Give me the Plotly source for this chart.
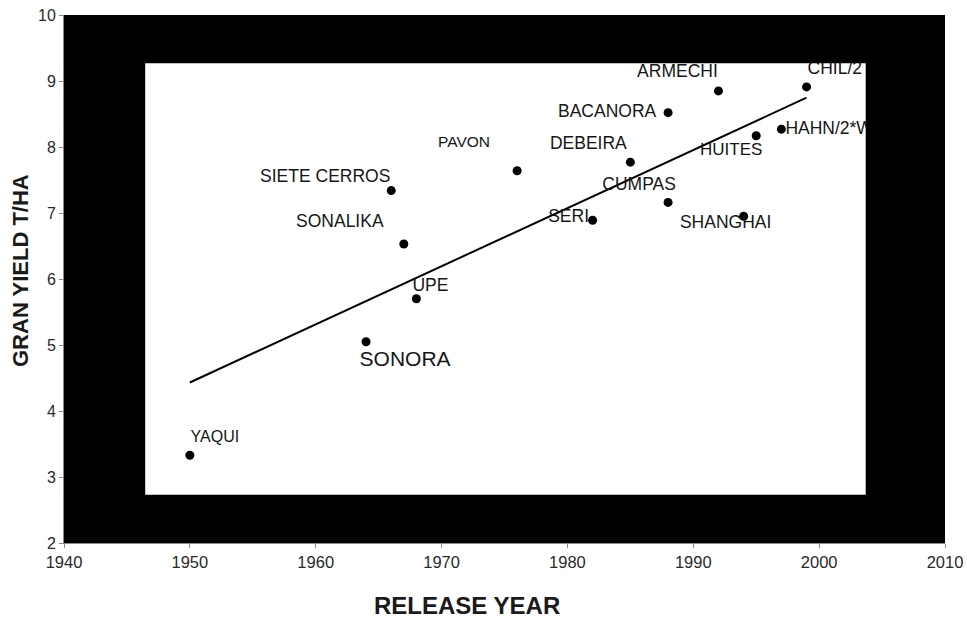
import numpy as np
import plotly.graph_objects as go

# Wheat varieties: release year and grain yield (t/ha)
varieties = ["YAQUI", "SONORA", "UPE", "SONALIKA", "SIETE CERROS", "PAVON", "SERI",
             "DEBEIRA", "CUMPAS", "BACANORA", "ARMECHI", "HUITES", "HAHN/2*W",
             "SHANGHAI", "CHIL/2"]
release_year = [1950, 1964, 1968, 1967, 1966, 1976, 1982, 1985, 1988, 1988, 1992,
                1995, 1997, 1994, 1999]
grain_yield = [3.33, 5.05, 5.70, 6.53, 7.34, 7.64, 6.89, 7.77, 7.16, 8.52, 8.85,
               8.17, 8.27, 6.95, 8.91]

x_ticks = [1940, 1950, 1960, 1970, 1980, 1990, 2000, 2010]
y_ticks = [2, 3, 4, 5, 6, 7, 8, 9, 10]
x_title = "RELEASE YEAR"
y_title = "GRAN YIELD T/HA"

# ---- figure geometry ----
W, H = 967, 619
ML, MR, MT, MB = 64, 22, 15, 76
XR = (1940, 2010)
YR = (2, 10)
PW, PH = W - ML - MR, H - MT - MB
px_x = PW / (XR[1] - XR[0])
px_y = PH / (YR[1] - YR[0])

# label placement: (dx, dy) in pixels from the point, dy downward; anchor, font size
label_style = {
    "YAQUI": (25, -17, "c", 16),
    "SONORA": (39, 19, "c", 21),
    "UPE": (14, -12, "c", 17.5),
    "SONALIKA": (-64, -21, "c", 17.5),
    "SIETE CERROS": (-66, -13, "c", 17.5),
    "PAVON": (-53, -28, "c", 15.5),
    "SERI": (-24, -3, "c", 17.5),
    "DEBEIRA": (-42, -18, "c", 17.5),
    "CUMPAS": (-29, -17, "c", 17.5),
    "BACANORA": (-61, 0, "c", 17.5),
    "ARMECHI": (-41, -18, "c", 17.5),
    "HUITES": (-25, 15, "c", 17),
    "HAHN/2*W": (4, 0, "l", 17.5),
    "SHANGHAI": (-18, 7, "c", 17.5),
    "CHIL/2": (1, -17, "l", 17.5),
}

FONT = "Liberation Sans, Arial, sans-serif"

fig = go.Figure()

# linear trend through the varieties
coef = np.polyfit(release_year, grain_yield, 1)
xt = np.array([min(release_year), max(release_year)])
fig.add_trace(go.Scatter(x=xt, y=np.polyval(coef, xt), mode="lines",
                         line=dict(color="black", width=2), hoverinfo="skip",
                         showlegend=False))

fig.add_trace(go.Scatter(x=release_year, y=grain_yield, mode="markers",
                         marker=dict(color="black", size=9),
                         text=varieties, showlegend=False))

# variety names
for anchor, tpos in (("c", "middle center"), ("l", "middle right")):
    lx, ly, lt, ls = [], [], [], []
    for name, xv, yv in zip(varieties, release_year, grain_yield):
        dx, dy, a, fs = label_style[name]
        if a != anchor:
            continue
        lx.append(xv + dx / px_x)
        ly.append(yv - dy / px_y)
        lt.append(name)
        ls.append(fs)
    fig.add_trace(go.Scatter(x=lx, y=ly, mode="text", text=lt, textposition=tpos,
                             textfont=dict(family=FONT, size=ls, color="#161616"),
                             hoverinfo="skip", showlegend=False))

# black frame around the inner white panel (one even-odd path, no seams)
ix0, ix1, iy0, iy1 = 1946.45, 2003.7, 2.73, 9.27
frame_path = (f"M {XR[0]},{YR[0]} L {XR[1]},{YR[0]} L {XR[1]},{YR[1]} L {XR[0]},{YR[1]} Z "
              f"M {ix0},{iy0} L {ix1},{iy0} L {ix1},{iy1} L {ix0},{iy1} Z")
fig.add_shape(type="path", path=frame_path, xref="x", yref="y",
              fillcolor="black", fillrule="evenodd", line=dict(width=0), layer="above")

# axis titles
fig.add_annotation(text=f"<b>{x_title}</b>", xref="paper", yref="paper",
                   x=(467 - ML) / PW, y=-(605 - (MT + PH)) / PH,
                   xanchor="center", yanchor="middle", showarrow=False,
                   font=dict(family=FONT, size=24, color="#1a1a1a"))
fig.add_annotation(text=f"<b>{y_title}</b>", xref="paper", yref="paper",
                   x=(20 - ML) / PW, y=(MT + PH - 271) / PH, textangle=-90,
                   xanchor="center", yanchor="middle", showarrow=False,
                   font=dict(family=FONT, size=22, color="#1a1a1a"))

fig.update_layout(
    width=W, height=H,
    margin=dict(l=ML, r=MR, t=MT, b=MB, autoexpand=False),
    paper_bgcolor="white", plot_bgcolor="white",
    font=dict(family=FONT, color="#2a2a2a"),
)
fig.update_xaxes(range=list(XR), tickvals=x_ticks, ticks="outside", ticklen=4,
                 tickcolor="#888", showline=True, linecolor="#888", linewidth=1,
                 showgrid=False, zeroline=False, tickfont=dict(size=16.5),
                 automargin=False)
fig.update_yaxes(range=list(YR), tickvals=y_ticks, ticks="outside", ticklen=4,
                 tickcolor="#888", showline=True, linecolor="#888", linewidth=1,
                 showgrid=False, zeroline=False, tickfont=dict(size=16),
                 automargin=False)

fig.write_html("out.html")
